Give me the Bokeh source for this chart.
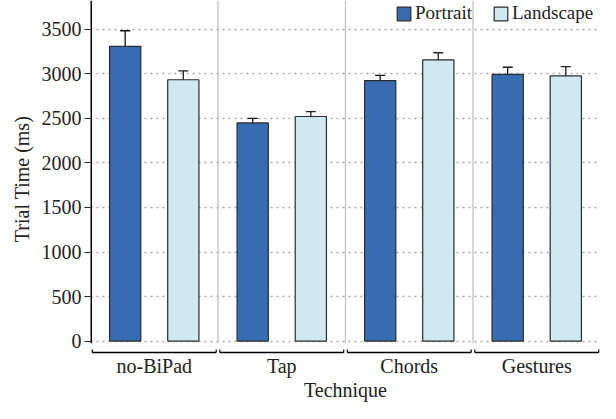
from bokeh.plotting import figure
from bokeh.models import (FactorRange, Range1d, ColumnDataSource, Whisker, TeeHead,
                          Legend, LegendItem, FixedTicker)
from bokeh.transform import dodge
from bokeh.embed import file_html
from bokeh.resources import INLINE

# ---- data ----
techniques = ["no-BiPad", "Tap", "Chords", "Gestures"]
portrait_mean = [3310, 2450, 2925, 2995]
portrait_err = [175, 50, 60, 80]
landscape_mean = [2935, 2522, 3158, 2978]
landscape_err = [100, 55, 80, 105]
series_names = ["Portrait", "Landscape"]
y_ticks = [0, 500, 1000, 1500, 2000, 2500, 3000, 3500]

PORTRAIT_COLOR = "#376cb3"
LANDSCAPE_COLOR = "#cfe9f1"
OUTLINE = "#2a2a2a"
TEXT = "#222222"
FONT = "Liberation Serif"

src = ColumnDataSource(dict(
    tech=techniques,
    portrait=portrait_mean,
    p_upper=[m + e for m, e in zip(portrait_mean, portrait_err)],
    p_lower=[m - e for m, e in zip(portrait_mean, portrait_err)],
    landscape=landscape_mean,
    l_upper=[m + e for m, e in zip(landscape_mean, landscape_err)],
    l_lower=[m - e for m, e in zip(landscape_mean, landscape_err)],
))

Y_START, Y_END = -185, 3825

p = figure(x_range=FactorRange(*techniques, range_padding=0),
           y_range=Range1d(Y_START, Y_END),
           width=600, height=403, output_backend="svg", toolbar_location=None,
           min_border_left=90, min_border_right=0, min_border_top=0, min_border_bottom=40)
p.outline_line_color = None
p.background_fill_color = "white"

# grid
p.xgrid.visible = False
p.ygrid.ticker = FixedTicker(ticks=y_ticks)
p.ygrid.grid_line_color = "#a8a8a8"
p.ygrid.grid_line_dash = "2 4"
p.ygrid.grid_line_width = 1.5

# y axis
p.yaxis.ticker = FixedTicker(ticks=y_ticks)
p.yaxis.axis_line_color = None
p.yaxis.major_tick_out = 6
p.yaxis.major_tick_in = 0
p.yaxis.major_tick_line_color = TEXT
p.yaxis.minor_tick_line_color = None
p.yaxis.major_label_standoff = 3
p.yaxis.major_label_text_font = FONT
p.yaxis.major_label_text_font_size = "20px"
p.yaxis.major_label_text_color = TEXT
p.yaxis.axis_label = "Trial Time (ms)"
p.yaxis.axis_label_text_font = FONT
p.yaxis.axis_label_text_font_size = "20px"
p.yaxis.axis_label_text_font_style = "normal"
p.yaxis.axis_label_text_color = TEXT
p.yaxis.axis_label_standoff = 6

# x axis
p.xaxis.axis_line_color = None
p.xaxis.major_tick_line_color = None
p.xaxis.major_tick_out = 0
p.xaxis.major_tick_in = 0
p.xaxis.major_label_standoff = -3
p.xaxis.major_label_text_font = FONT
p.xaxis.major_label_text_font_size = "20px"
p.xaxis.major_label_text_color = TEXT
p.xaxis.axis_label = "Technique"
p.xaxis.axis_label_text_font = FONT
p.xaxis.axis_label_text_font_size = "20px"
p.xaxis.axis_label_text_font_style = "normal"
p.xaxis.axis_label_text_color = TEXT
p.xaxis.axis_label_standoff = -1

# group separators
sep_src = ColumnDataSource(dict(tech=techniques[1:]))
p.segment(x0=dodge("tech", -0.5, range=p.x_range), x1=dodge("tech", -0.5, range=p.x_range),
          y0=-25, y1=Y_END, source=sep_src, line_color="#bdbdbd", line_width=1.2)

# bars
OFF, W = 0.228, 0.245
r1 = p.vbar(x=dodge("tech", -OFF, range=p.x_range), top="portrait", bottom=0, width=W,
            source=src, fill_color=PORTRAIT_COLOR, line_color=OUTLINE, line_width=1.2)
r2 = p.vbar(x=dodge("tech", OFF, range=p.x_range), top="landscape", bottom=0, width=W,
            source=src, fill_color=LANDSCAPE_COLOR, line_color=OUTLINE, line_width=1.2)

# error bars
for off, up, lo, col in [(-OFF, "p_upper", "p_lower", "#111111"), (OFF, "l_upper", "l_lower", "#222222")]:
    w = Whisker(source=src, base=dodge("tech", off, range=p.x_range), upper=up, lower=lo,
                line_color=col, line_width=1.3,
                upper_head=TeeHead(size=10, line_color=col, line_width=1.3),
                lower_head=TeeHead(size=10, line_color=col, line_width=1.3))
    p.add_layout(w)

# left axis line
ax_src = ColumnDataSource(dict(tech=techniques[:1]))
p.segment(x0=dodge("tech", -0.496, range=p.x_range), x1=dodge("tech", -0.496, range=p.x_range),
          y0=-25, y1=Y_END, source=ax_src, line_color="black", line_width=2)

# group brackets below
GAP = 0.014
BR_Y, BR_TOP = -129, -95
p.segment(x0=dodge("tech", -0.5 + GAP, range=p.x_range), x1=dodge("tech", 0.5 - GAP, range=p.x_range),
          y0=BR_Y, y1=BR_Y, source=src, line_color="black", line_width=1.5)
p.segment(x0=dodge("tech", -0.5 + GAP, range=p.x_range), x1=dodge("tech", -0.5 + GAP, range=p.x_range),
          y0=BR_Y, y1=BR_TOP, source=src, line_color="black", line_width=1.2)
p.segment(x0=dodge("tech", 0.5 - GAP, range=p.x_range), x1=dodge("tech", 0.5 - GAP, range=p.x_range),
          y0=BR_Y, y1=BR_TOP, source=src, line_color="black", line_width=1.2)

# legend
legend = Legend(items=[LegendItem(label=series_names[0], renderers=[r1]),
                       LegendItem(label=series_names[1], renderers=[r2])],
                orientation="horizontal", location=(305, 333),
                background_fill_alpha=0, border_line_color=None, padding=0, margin=0,
                spacing=20, label_standoff=3, glyph_width=17, glyph_height=17,
                label_height=17, label_text_font=FONT, label_text_font_size="19px",
                label_text_color=TEXT)
p.add_layout(legend)

open("out.html", "w").write(file_html(p, INLINE))
